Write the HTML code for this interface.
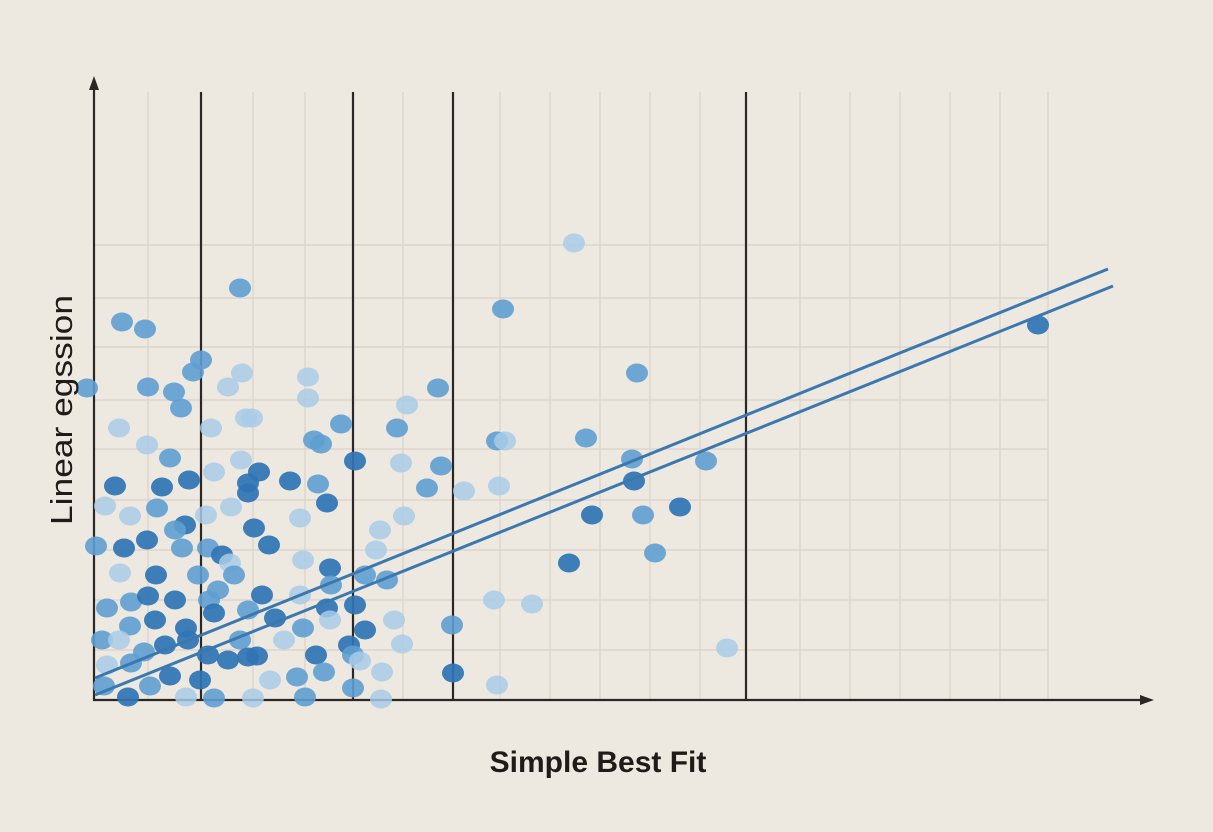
<!DOCTYPE html>
<html><head><meta charset="utf-8"><style>
html,body{margin:0;padding:0;background:#ede9e0;}
svg{display:block}
.d{fill:#2f74b5;opacity:.93}.m{fill:#5e9ed2;opacity:.9}.l{fill:#a8cbe7;opacity:.85}
</style></head><body>
<svg width="1213" height="832" viewBox="0 0 1213 832" xmlns="http://www.w3.org/2000/svg">
<rect width="1213" height="832" fill="#ede9e0"/>
<g stroke="#dcd2ca" stroke-width="1.2">
<line x1="148" y1="92" x2="148" y2="700"/><line x1="253" y1="92" x2="253" y2="700"/><line x1="305" y1="92" x2="305" y2="700"/><line x1="403" y1="92" x2="403" y2="700"/><line x1="500" y1="92" x2="500" y2="700"/><line x1="550" y1="92" x2="550" y2="700"/><line x1="600" y1="92" x2="600" y2="700"/><line x1="650" y1="92" x2="650" y2="700"/><line x1="700" y1="92" x2="700" y2="700"/><line x1="800" y1="92" x2="800" y2="700"/><line x1="850" y1="92" x2="850" y2="700"/><line x1="900" y1="92" x2="900" y2="700"/><line x1="950" y1="92" x2="950" y2="700"/><line x1="1000" y1="92" x2="1000" y2="700"/><line x1="1048" y1="92" x2="1048" y2="700"/>
<line x1="95" y1="245" x2="1048" y2="245"/><line x1="95" y1="298" x2="1048" y2="298"/><line x1="95" y1="347" x2="1048" y2="347"/><line x1="95" y1="400" x2="1048" y2="400"/><line x1="95" y1="449" x2="1048" y2="449"/><line x1="95" y1="500" x2="1048" y2="500"/><line x1="95" y1="550" x2="1048" y2="550"/><line x1="95" y1="600" x2="1048" y2="600"/><line x1="95" y1="650" x2="1048" y2="650"/>
</g>
<g stroke="#2b2724" stroke-width="2.2">
<line x1="201" y1="92" x2="201" y2="700"/><line x1="353" y1="92" x2="353" y2="700"/><line x1="453" y1="92" x2="453" y2="700"/><line x1="746" y1="92" x2="746" y2="700"/>
<line x1="94" y1="86" x2="94" y2="701"/><line x1="93" y1="700" x2="1144" y2="700"/>
</g>
<polygon points="94,76 89,90 99,90" fill="#2b2724"/>
<polygon points="1154,700 1140,695 1140,705" fill="#2b2724"/>
<g>
<ellipse class="m" cx="240" cy="288" rx="11" ry="9.5"/><ellipse class="m" cx="122" cy="322" rx="11" ry="9.5"/><ellipse class="m" cx="145" cy="329" rx="11" ry="9.5"/><ellipse class="m" cx="87" cy="388" rx="11" ry="9.5"/><ellipse class="m" cx="201" cy="360" rx="11" ry="9.5"/><ellipse class="m" cx="193" cy="372" rx="11" ry="9.5"/><ellipse class="m" cx="148" cy="387" rx="11" ry="9.5"/><ellipse class="m" cx="174" cy="392" rx="11" ry="9.5"/><ellipse class="m" cx="181" cy="408" rx="11" ry="9.5"/><ellipse class="l" cx="228" cy="387" rx="11" ry="9.5"/><ellipse class="l" cx="242" cy="373" rx="11" ry="9.5"/><ellipse class="l" cx="308" cy="377" rx="11" ry="9.5"/><ellipse class="l" cx="308" cy="398" rx="11" ry="9.5"/><ellipse class="l" cx="407" cy="405" rx="11" ry="9.5"/><ellipse class="m" cx="438" cy="388" rx="11" ry="9.5"/><ellipse class="m" cx="503" cy="309" rx="11" ry="9.5"/><ellipse class="l" cx="574" cy="243" rx="11" ry="9.5"/><ellipse class="m" cx="637" cy="373" rx="11" ry="9.5"/><ellipse class="l" cx="119" cy="428" rx="11" ry="9.5"/><ellipse class="l" cx="147" cy="445" rx="11" ry="9.5"/><ellipse class="l" cx="211" cy="428" rx="11" ry="9.5"/><ellipse class="l" cx="246" cy="418" rx="11" ry="9.5"/><ellipse class="l" cx="252" cy="418" rx="11" ry="9.5"/><ellipse class="m" cx="314" cy="440" rx="11" ry="9.5"/><ellipse class="m" cx="321" cy="444" rx="11" ry="9.5"/><ellipse class="m" cx="341" cy="424" rx="11" ry="9.5"/><ellipse class="m" cx="397" cy="428" rx="11" ry="9.5"/><ellipse class="d" cx="355" cy="461" rx="11" ry="9.5"/><ellipse class="l" cx="401" cy="463" rx="11" ry="9.5"/><ellipse class="m" cx="441" cy="466" rx="11" ry="9.5"/><ellipse class="m" cx="170" cy="458" rx="11" ry="9.5"/><ellipse class="d" cx="115" cy="486" rx="11" ry="9.5"/><ellipse class="d" cx="162" cy="487" rx="11" ry="9.5"/><ellipse class="d" cx="189" cy="480" rx="11" ry="9.5"/><ellipse class="d" cx="259" cy="472" rx="11" ry="9.5"/><ellipse class="d" cx="290" cy="481" rx="11" ry="9.5"/><ellipse class="m" cx="318" cy="484" rx="11" ry="9.5"/><ellipse class="d" cx="327" cy="503" rx="11" ry="9.5"/><ellipse class="l" cx="241" cy="460" rx="11" ry="9.5"/><ellipse class="l" cx="214" cy="472" rx="11" ry="9.5"/><ellipse class="m" cx="427" cy="488" rx="11" ry="9.5"/><ellipse class="l" cx="464" cy="491" rx="11" ry="9.5"/><ellipse class="l" cx="499" cy="486" rx="11" ry="9.5"/><ellipse class="m" cx="497" cy="441" rx="11" ry="9.5"/><ellipse class="l" cx="505" cy="441" rx="11" ry="9.5"/><ellipse class="m" cx="586" cy="438" rx="11" ry="9.5"/><ellipse class="m" cx="632" cy="459" rx="11" ry="9.5"/><ellipse class="d" cx="634" cy="481" rx="11" ry="9.5"/><ellipse class="m" cx="643" cy="515" rx="11" ry="9.5"/><ellipse class="d" cx="680" cy="507" rx="11" ry="9.5"/><ellipse class="d" cx="592" cy="515" rx="11" ry="9.5"/><ellipse class="m" cx="706" cy="461" rx="11" ry="9.5"/><ellipse class="m" cx="655" cy="553" rx="11" ry="9.5"/><ellipse class="d" cx="569" cy="563" rx="11" ry="9.5"/><ellipse class="l" cx="105" cy="506" rx="11" ry="9.5"/><ellipse class="l" cx="130" cy="516" rx="11" ry="9.5"/><ellipse class="m" cx="157" cy="508" rx="11" ry="9.5"/><ellipse class="d" cx="185" cy="525" rx="11" ry="9.5"/><ellipse class="l" cx="206" cy="515" rx="11" ry="9.5"/><ellipse class="l" cx="231" cy="507" rx="11" ry="9.5"/><ellipse class="d" cx="254" cy="528" rx="11" ry="9.5"/><ellipse class="d" cx="269" cy="545" rx="11" ry="9.5"/><ellipse class="l" cx="300" cy="518" rx="11" ry="9.5"/><ellipse class="d" cx="248" cy="493" rx="11" ry="9.5"/><ellipse class="d" cx="248" cy="483" rx="11" ry="9.5"/><ellipse class="m" cx="96" cy="546" rx="11" ry="9.5"/><ellipse class="d" cx="124" cy="548" rx="11" ry="9.5"/><ellipse class="d" cx="147" cy="540" rx="11" ry="9.5"/><ellipse class="m" cx="182" cy="548" rx="11" ry="9.5"/><ellipse class="m" cx="208" cy="548" rx="11" ry="9.5"/><ellipse class="d" cx="222" cy="555" rx="11" ry="9.5"/><ellipse class="l" cx="230" cy="563" rx="11" ry="9.5"/><ellipse class="d" cx="156" cy="575" rx="11" ry="9.5"/><ellipse class="l" cx="120" cy="573" rx="11" ry="9.5"/><ellipse class="m" cx="131" cy="602" rx="11" ry="9.5"/><ellipse class="d" cx="148" cy="596" rx="11" ry="9.5"/><ellipse class="d" cx="175" cy="600" rx="11" ry="9.5"/><ellipse class="m" cx="209" cy="600" rx="11" ry="9.5"/><ellipse class="m" cx="234" cy="575" rx="11" ry="9.5"/><ellipse class="d" cx="262" cy="595" rx="11" ry="9.5"/><ellipse class="l" cx="303" cy="560" rx="11" ry="9.5"/><ellipse class="d" cx="330" cy="568" rx="11" ry="9.5"/><ellipse class="m" cx="331" cy="585" rx="11" ry="9.5"/><ellipse class="l" cx="380" cy="530" rx="11" ry="9.5"/><ellipse class="l" cx="376" cy="550" rx="11" ry="9.5"/><ellipse class="m" cx="387" cy="580" rx="11" ry="9.5"/><ellipse class="m" cx="365" cy="575" rx="11" ry="9.5"/><ellipse class="l" cx="404" cy="516" rx="11" ry="9.5"/><ellipse class="d" cx="355" cy="605" rx="11" ry="9.5"/><ellipse class="d" cx="365" cy="630" rx="11" ry="9.5"/><ellipse class="d" cx="349" cy="645" rx="11" ry="9.5"/><ellipse class="l" cx="394" cy="620" rx="11" ry="9.5"/><ellipse class="l" cx="402" cy="644" rx="11" ry="9.5"/><ellipse class="m" cx="452" cy="625" rx="11" ry="9.5"/><ellipse class="d" cx="453" cy="673" rx="11" ry="9.5"/><ellipse class="l" cx="494" cy="600" rx="11" ry="9.5"/><ellipse class="l" cx="532" cy="604" rx="11" ry="9.5"/><ellipse class="l" cx="497" cy="685" rx="11" ry="9.5"/><ellipse class="l" cx="727" cy="648" rx="11" ry="9.5"/><ellipse class="d" cx="1038" cy="325" rx="11" ry="9.5"/><ellipse class="m" cx="107" cy="608" rx="11" ry="9.5"/><ellipse class="m" cx="130" cy="626" rx="11" ry="9.5"/><ellipse class="d" cx="155" cy="620" rx="11" ry="9.5"/><ellipse class="d" cx="186" cy="628" rx="11" ry="9.5"/><ellipse class="d" cx="214" cy="613" rx="11" ry="9.5"/><ellipse class="m" cx="248" cy="610" rx="11" ry="9.5"/><ellipse class="d" cx="275" cy="618" rx="11" ry="9.5"/><ellipse class="m" cx="303" cy="628" rx="11" ry="9.5"/><ellipse class="d" cx="327" cy="608" rx="11" ry="9.5"/><ellipse class="m" cx="102" cy="640" rx="11" ry="9.5"/><ellipse class="l" cx="119" cy="640" rx="11" ry="9.5"/><ellipse class="m" cx="144" cy="652" rx="11" ry="9.5"/><ellipse class="d" cx="165" cy="645" rx="11" ry="9.5"/><ellipse class="d" cx="188" cy="640" rx="11" ry="9.5"/><ellipse class="d" cx="208" cy="655" rx="11" ry="9.5"/><ellipse class="m" cx="240" cy="640" rx="11" ry="9.5"/><ellipse class="d" cx="257" cy="656" rx="11" ry="9.5"/><ellipse class="l" cx="284" cy="640" rx="11" ry="9.5"/><ellipse class="d" cx="316" cy="655" rx="11" ry="9.5"/><ellipse class="m" cx="353" cy="655" rx="11" ry="9.5"/><ellipse class="l" cx="107" cy="665" rx="11" ry="9.5"/><ellipse class="m" cx="131" cy="663" rx="11" ry="9.5"/><ellipse class="d" cx="170" cy="676" rx="11" ry="9.5"/><ellipse class="d" cx="200" cy="680" rx="11" ry="9.5"/><ellipse class="d" cx="228" cy="660" rx="11" ry="9.5"/><ellipse class="d" cx="248" cy="657" rx="11" ry="9.5"/><ellipse class="l" cx="270" cy="680" rx="11" ry="9.5"/><ellipse class="m" cx="297" cy="677" rx="11" ry="9.5"/><ellipse class="m" cx="324" cy="672" rx="11" ry="9.5"/><ellipse class="l" cx="360" cy="661" rx="11" ry="9.5"/><ellipse class="l" cx="382" cy="672" rx="11" ry="9.5"/><ellipse class="m" cx="104" cy="686" rx="11" ry="9.5"/><ellipse class="d" cx="128" cy="697" rx="11" ry="9.5"/><ellipse class="m" cx="150" cy="686" rx="11" ry="9.5"/><ellipse class="l" cx="186" cy="697" rx="11" ry="9.5"/><ellipse class="m" cx="214" cy="698" rx="11" ry="9.5"/><ellipse class="l" cx="253" cy="698" rx="11" ry="9.5"/><ellipse class="m" cx="305" cy="697" rx="11" ry="9.5"/><ellipse class="m" cx="353" cy="688" rx="11" ry="9.5"/><ellipse class="l" cx="381" cy="699" rx="11" ry="9.5"/><ellipse class="l" cx="330" cy="620" rx="11" ry="9.5"/><ellipse class="l" cx="300" cy="595" rx="11" ry="9.5"/><ellipse class="m" cx="198" cy="575" rx="11" ry="9.5"/><ellipse class="m" cx="218" cy="590" rx="11" ry="9.5"/><ellipse class="m" cx="175" cy="530" rx="11" ry="9.5"/>
</g>
<g stroke="#3b78b0" stroke-width="3" fill="none">
<line x1="95" y1="678" x2="1108" y2="269"/><line x1="95" y1="695" x2="1113" y2="286"/>
</g>
<text x="598" y="772" text-anchor="middle" font-family="Liberation Sans, sans-serif" font-weight="bold" font-size="30" fill="#1e1b19">Simple Best Fit</text>
<text transform="translate(72,410) rotate(-90)" text-anchor="middle" font-family="Liberation Sans, sans-serif" font-size="31" fill="#1e1b19" textLength="230" lengthAdjust="spacingAndGlyphs">Linear egssion</text>
</svg>
</body></html>
